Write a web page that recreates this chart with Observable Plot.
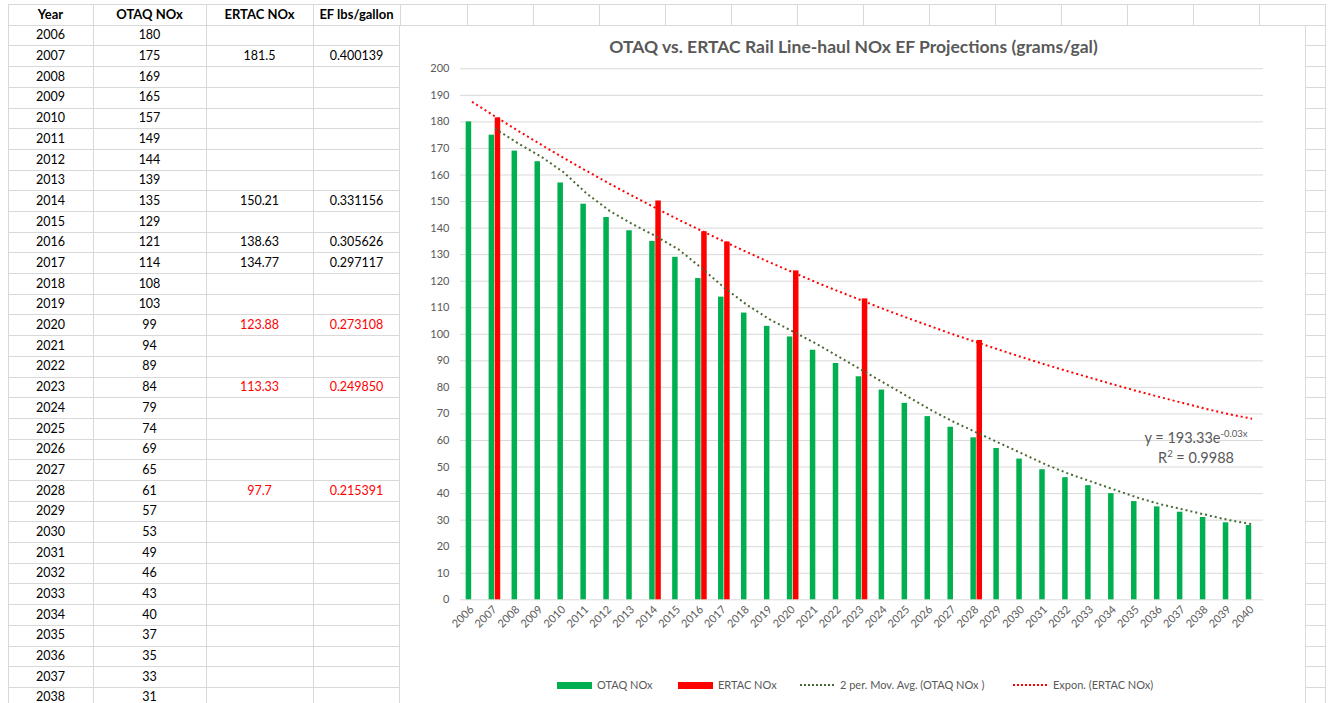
<!DOCTYPE html>
<html><head><meta charset="utf-8">
<script src="https://cdn.jsdelivr.net/npm/d3@7"></script>
<script src="https://cdn.jsdelivr.net/npm/@observablehq/plot@0.6"></script>
<style>
html,body{margin:0;padding:0;background:#fff}
body{width:1330px;height:703px;overflow:hidden;position:relative;font-family:Lato,"Open Sans",sans-serif}
.gl{position:absolute;background:#d9d9d9}
.cell{position:absolute;text-align:center;font-size:12.5px;color:#000;white-space:nowrap}
.hdr{font-weight:bold;font-size:13px}
.red{color:#ff0000}
#chart{position:absolute;left:399px;top:25px;width:907px;height:700px;background:#fff;border:1px solid #d9d9d9;box-sizing:border-box}
#title{position:absolute;left:400px;width:907px;top:36px;text-align:center;font-weight:bold;font-size:17.5px;color:#595959;white-space:nowrap}
#plotwrap{position:absolute;left:400px;top:60px}
.eq{position:absolute;color:#595959;font-size:14.5px;white-space:nowrap;text-align:center;width:140px}
.eq sup{font-size:9.5px;vertical-align:6px}
.lg{position:absolute;top:678px;font-size:11px;color:#595959;white-space:nowrap;line-height:14px}
.sw{position:absolute;height:7px;top:682px}
</style></head><body>
<div id="sheet"></div>
<div id="chart"></div>
<div id="title">OTAQ vs. ERTAC Rail Line-haul NOx EF Projections (grams/gal)</div>
<div id="plotwrap"></div>
<div class="eq" style="left:1126px;top:428px">y = 193.33e<sup>-0.03x</sup></div>
<div class="eq" style="left:1126px;top:448px">R<sup>2</sup> = 0.9988</div>
<div id="legend"></div>
<script>
// ---- data ----
const years = [2006,2007,2008,2009,2010,2011,2012,2013,2014,2015,2016,2017,2018,2019,2020,2021,2022,2023,2024,2025,2026,2027,2028,2029,2030,2031,2032,2033,2034,2035,2036,2037,2038,2039,2040];
const otaqNox = [180,175,169,165,157,149,144,139,135,129,121,114,108,103,99,94,89,84,79,74,69,65,61,57,53,49,46,43,40,37,35,33,31,29,28];
const ertacYears = [2007,2014,2016,2017,2020,2023,2028];
const ertacNox = [181.5,150.21,138.63,134.77,123.88,113.33,97.7];
const efLbsGallon = ["0.400139","0.331156","0.305626","0.297117","0.273108","0.249850","0.215391"];
const ertacProjectedYears = [2020,2023,2028];
// exponential trendline of ERTAC NOx at each category
const exponTrend = [187.6,182.1,176.7,171.5,166.4,161.5,156.7,152.1,147.6,143.2,139.0,134.9,130.9,127.0,123.3,119.6,116.1,112.7,109.3,106.1,103.0,99.9,97.0,94.1,91.3,88.6,86.0,83.5,81.0,78.6,76.3,74.1,71.9,69.9,68.2];
const tableYears = years.slice(0, 33);
const tableHeaders = ["Year","OTAQ NOx","ERTAC NOx","EF lbs/gallon"];
const yTicks = [0,10,20,30,40,50,60,70,80,90,100,110,120,130,140,150,160,170,180,190,200];
const legendItems = [
  {label:"OTAQ NOx", kind:"bar", color:"#00b050"},
  {label:"ERTAC NOx", kind:"bar", color:"#ff0000"},
  {label:"2 per. Mov. Avg. (OTAQ NOx )", kind:"dot", color:"#4a6a34"},
  {label:"Expon. (ERTAC NOx)", kind:"dot", color:"#ff0000"}
];

// ---- spreadsheet grid ----
const sheet = document.getElementById("sheet");
const colX = [8,93,206,313,400,467,533,599,665,731,797,863,929,995,1061,1127,1193,1259,1325];
const rowH = 20.69, row0 = 24.8;
const rowY = [4]; for (let k = 0; k <= 34; k++) rowY.push(row0 + k*rowH);
function addDiv(parent, cls, css, text){ const d=document.createElement("div"); d.className=cls; Object.assign(d.style, css); if(text!=null) d.textContent=text; parent.appendChild(d); return d; }
colX.forEach(x => addDiv(sheet,"gl",{left:x+"px",top:"4px",width:"1px",height:"700px"}));
rowY.forEach(y => addDiv(sheet,"gl",{left:"8px",top:y+"px",width:"1318px",height:"1px"}));
const colBounds = [[8,93],[93,206],[206,313],[313,400]];
tableHeaders.forEach((h,i)=>addDiv(sheet,"cell hdr",{left:colBounds[i][0]+"px",width:(colBounds[i][1]-colBounds[i][0])+"px",top:"4px",height:"21px",lineHeight:"21px"},h));
tableYears.forEach((yr,r)=>{
  const top = row0 + r*rowH;
  const cells = [String(yr), String(otaqNox[years.indexOf(yr)]), "", ""];
  const ei = ertacYears.indexOf(yr);
  if (ei >= 0) { cells[2] = String(ertacNox[ei]); cells[3] = efLbsGallon[ei]; }
  const proj = ertacProjectedYears.includes(yr);
  cells.forEach((t,i)=>{ if(!t) return;
    addDiv(sheet, "cell"+(proj && i>=2 ? " red":""), {left:colBounds[i][0]+"px",width:(colBounds[i][1]-colBounds[i][0])+"px",top:(top+0.6)+"px",height:rowH+"px",lineHeight:rowH+"px"}, t);
  });
});

// ---- chart ----
const otaqRows = years.map((y,i)=>({year:y, value:otaqNox[i]}));
const ertacRows = ertacYears.map((y,i)=>({year:y, value:ertacNox[i]}));
const trendRows = years.map((y,i)=>({year:y, value:exponTrend[i]}));
const W = 907, H = 600, mL = 60, mR = 44, mT = 8.3, mB = 60.7;
const step = (W - mL - mR) / years.length;
const plot = Plot.plot({
  width: W, height: H,
  marginLeft: mL, marginRight: mR, marginTop: mT, marginBottom: mB,
  style: {fontFamily: "Lato, sans-serif", fontSize: "11px", color: "#595959", background: "transparent", overflow: "visible"},
  x: {type: "band", domain: years, padding: 0, label: null, tickFormat: d => String(d)},
  y: {domain: [0, 200], label: null},
  marks: [
    Plot.gridY(yTicks, {stroke: "#d9d9d9", strokeOpacity: 1, strokeWidth: 1}),
    Plot.axisY(yTicks, {tickSize: 0, tickPadding: 11, label: null}),
    Plot.axisX({tickSize: 0, tickRotate: -45, tickPadding: 8, label: null, tickFormat: d => String(d)}),
    Plot.barY(otaqRows, {x: "year", y: "value", fill: "#00b050", insetLeft: step/2 - 5.8, insetRight: step/2 + 0.3}),
    Plot.barY(ertacRows, {x: "year", y: "value", fill: "#ff0000", insetLeft: step/2 + 0.3, insetRight: step/2 - 5.8}),
    Plot.lineY(otaqRows, Plot.windowY({k: 2, anchor: "end", strict: true}, {x: "year", y: "value", stroke: "#4a6a34", strokeWidth: 2, strokeDasharray: "2 3", strokeLinecap: "butt"})),
    Plot.lineY(trendRows, {x: "year", y: "value", stroke: "#ff0000", strokeWidth: 2, strokeDasharray: "2 3", strokeLinecap: "butt"})
  ]
});
document.getElementById("plotwrap").appendChild(plot);

// ---- legend ----
const legend = document.getElementById("legend");
const legendX = [557, 678, 800, 1013];
legendItems.forEach((it,i)=>{
  const x = legendX[i];
  if (it.kind === "bar") {
    addDiv(legend, "sw", {left:x+"px", width:"35px", background:it.color});
  } else {
    const s = document.createElementNS("http://www.w3.org/2000/svg","svg");
    s.setAttribute("width","35"); s.setAttribute("height","4");
    s.style.position="absolute"; s.style.left=x+"px"; s.style.top="683px";
    const l = document.createElementNS("http://www.w3.org/2000/svg","line");
    l.setAttribute("x1","0"); l.setAttribute("x2","35"); l.setAttribute("y1","2"); l.setAttribute("y2","2");
    l.setAttribute("stroke", it.color); l.setAttribute("stroke-width","2"); l.setAttribute("stroke-dasharray","2 2");
    s.appendChild(l); legend.appendChild(s);
  }
  addDiv(legend, "lg", {left:(x+40)+"px"}, it.label);
});
</script>
</body></html>
